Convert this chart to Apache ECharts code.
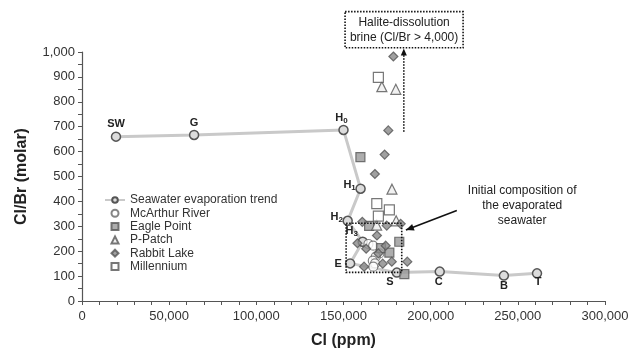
<!DOCTYPE html>
<html><head><meta charset="utf-8">
<script src="https://cdn.jsdelivr.net/npm/echarts@6/dist/echarts.min.js"></script>
<style>html,body{margin:0;padding:0;background:#fff}#c{width:636px;height:358px}</style>
</head><body><div id="c"></div>
<script>
// ---- data ----
const trendNames = ['SW','G','H0','H1','H2','H3','E','S','C','B','T'];
const trendCl    = [19500, 64300, 150000, 159800, 152400, 161000, 153800, 180600, 205200, 242000, 261000];
const trendRatio = [660, 667, 687, 451, 322, 238, 151, 114, 118, 102, 111];
const mcarthurRiver = [[164300,229],[167000,222],[170600,191],[168500,178],[166800,162],[168100,151],[167100,138]];
const eaglePoint = [[159700,578],[164700,302],[182000,238],[171500,212],[176300,194],[184900,108]];
const pPatch = [[172000,861],[180000,850],[177800,449],[180200,322],[169000,305]];
const rabbitLake = [[178600,982],[175700,685],[173600,588],[168000,510],[160800,318],[174800,303],[182800,310],[169200,263],[158000,232],[163000,210],[174200,222],[170000,191],[161800,138],[172500,150],[177700,158],[186600,158]];
const millennium = [[170000,898],[169100,391],[176300,366],[170000,341]];
const seriesNames = ['Seawater evaporation trend','McArthur River','Eagle Point','P-Patch','Rabbit Lake','Millennium'];
// annotations (data coordinates)
const initialBox = {x1: 151500, x2: 183400, y1: 115, y2: 312};
const initialArrow = {from: [215000, 363], to: [185800, 285]};
const initialText = {x: 252500, y: 381, lines: ['Initial composition of', 'the evaporated', 'seawater']};
const haliteBox = {x1: 150900, x2: 218600, y1: 1017, y2: 1162};
const haliteArrow = {x: 184600, from: 680, to: 1010};
const haliteText = ['Halite-dissolution', 'brine (Cl/Br > 4,000)'];

// ---- style helpers ----
const labelOffsets = {SW:[0,-13],G:[0,-12],H0:[-2,-12],H1:[-11,-4],H2:[-11,-4],H3:[-11,-11],E:[-12,1],S:[-7,9],C:[-1,10],B:[0,10],T:[1,9]};
function fmtName(n){
  if (n.length === 2 && n[0] === 'H') return '{b|H}{s|' + n[1] + '}';
  return '{b|' + n + '}';
}
const fmt = v => v.toLocaleString('en-US');
const icons = {
  circle: 'path://M0,5A5,5 0 1,1 10,5A5,5 0 1,1 0,5Z',
  square: 'path://M0,0L10,0L10,10L0,10Z',
  triangle: 'path://M5,0L10,10L0,10Z',
  diamond: 'path://M5,0L10,5L5,10L0,5Z'
};

const trendData = trendNames.map((n,i)=>({
  value:[trendCl[i], trendRatio[i]],
  name:n,
  label:{show:true, position:'inside', offset: labelOffsets[n], formatter: fmtName(n),
    rich:{b:{fontWeight:'bold', fontSize:11, color:'#222', fontFamily:'Liberation Sans'},
          s:{fontWeight:'bold', fontSize:8, color:'#222', padding:[6,0,0,0], fontFamily:'Liberation Sans'}}}
}));

const chart = echarts.init(document.getElementById('c'), null, {renderer:'canvas'});
const axisCol = '#555';
const txt = {fontFamily:'Liberation Sans', color:'#333'};
const legendText = {fontFamily:'Liberation Sans', fontSize:12, color:'#333', lineHeight:12};
chart.setOption({
  animation:false,
  backgroundColor:'#fff',
  grid:{left:82, right:31, top:52, bottom:57},
  xAxis:{type:'value', min:0, max:300000, interval:50000,
    name:'Cl (ppm)', nameLocation:'middle', nameGap:32,
    nameTextStyle:{fontFamily:'Liberation Sans', fontWeight:'bold', fontSize:16, color:'#222'},
    axisLine:{show:true, lineStyle:{color:axisCol, width:1.2}},
    axisTick:{show:true, inside:false, length:4, lineStyle:{color:axisCol}},
    minorTick:{show:true, splitNumber:5, length:4, lineStyle:{color:axisCol}},
    splitLine:{show:false},
    axisLabel:Object.assign({fontSize:13, margin:9, formatter:fmt}, txt)},
  yAxis:{type:'value', min:0, max:1000, interval:100,
    name:'Cl/Br (molar)', nameLocation:'middle', nameGap:52,
    nameTextStyle:{fontFamily:'Liberation Sans', fontWeight:'bold', fontSize:16, color:'#222'},
    axisLine:{show:true, lineStyle:{color:axisCol, width:1.2}},
    axisTick:{show:true, inside:false, length:4, lineStyle:{color:axisCol}},
    minorTick:{show:true, splitNumber:2, length:4, lineStyle:{color:axisCol}},
    splitLine:{show:false},
    axisLabel:Object.assign({fontSize:13, margin:7, formatter:fmt}, txt)},
  legend:{orient:'vertical', left:99, top:189, itemWidth:20, itemHeight:7, itemGap:1.3,
    textStyle:legendText,
    data:[
      {name:seriesNames[0]},
      {name:seriesNames[1], icon:icons.circle},
      {name:seriesNames[2], icon:icons.square},
      {name:seriesNames[3], icon:icons.triangle},
      {name:seriesNames[4], icon:icons.diamond},
      {name:seriesNames[5], icon:icons.square}
    ]},
  series:[
    {name:seriesNames[0], type:'line', data:trendData, symbol:'circle', symbolSize:9,
      lineStyle:{color:'#c9c9c9', width:3}, itemStyle:{color:'#dcdcdc', borderColor:'#555', borderWidth:1.5}, z:2},
    {name:seriesNames[1], type:'scatter', data:mcarthurRiver, symbol:'circle', symbolSize:9,
      itemStyle:{color:'#fff', borderColor:'#666', borderWidth:1.2}, z:3},
    {name:seriesNames[2], type:'scatter', data:eaglePoint, symbol:'rect', symbolSize:9,
      itemStyle:{color:'#999', borderColor:'#555', borderWidth:1.2}, z:3},
    {name:seriesNames[3], type:'scatter', data:pPatch, symbol:'triangle', symbolSize:10,
      itemStyle:{color:'#eee', borderColor:'#555', borderWidth:1.2}, z:3},
    {name:seriesNames[4], type:'scatter', data:rabbitLake, symbol:'diamond', symbolSize:9,
      itemStyle:{color:'#888', borderColor:'#555', borderWidth:1.2}, z:3},
    {name:seriesNames[5], type:'scatter', data:millennium, symbol:'rect', symbolSize:10,
      itemStyle:{color:'#fff', borderColor:'#555', borderWidth:1.2}, z:3}
  ]
});

function px(p){ return chart.convertToPixel({gridIndex:0}, p); }
const b1 = px([initialBox.x1, initialBox.y2]), b2 = px([initialBox.x2, initialBox.y1]);
const a1 = px(initialArrow.from), a2 = px(initialArrow.to);
const it = px([initialText.x, initialText.y]);
const h1 = px([haliteBox.x1, haliteBox.y2]), h2 = px([haliteBox.x2, haliteBox.y1]);
const ha1 = px([haliteArrow.x, haliteArrow.from]), ha2 = px([haliteArrow.x, haliteArrow.to]);
const dotted = {stroke:'#111', lineWidth:1.6, lineDash:[1.5,1.5], fill:null};
chart.setOption({graphic:[
  {type:'rect', shape:{x:b1[0], y:b1[1], width:b2[0]-b1[0], height:b2[1]-b1[1]}, style:dotted, z:10},
  {type:'line', shape:{x1:a1[0], y1:a1[1], x2:a2[0], y2:a2[1]}, style:{stroke:'#111', lineWidth:1.6}, z:10},
  {type:'polygon', shape:{points:(function(){
      const dx=a2[0]-a1[0], dy=a2[1]-a1[1], L=Math.hypot(dx,dy), ux=dx/L, uy=dy/L;
      const bx=a2[0]-ux*8, by=a2[1]-uy*8;
      return [[a2[0],a2[1]],[bx-uy*3.5,by+ux*3.5],[bx+uy*3.5,by-ux*3.5]];})()}, style:{fill:'#111'}, z:10},
  {type:'text', x:it[0], y:it[1], style:{text:initialText.lines.join('\n'), align:'center', verticalAlign:'middle',
      fontFamily:'Liberation Sans', fontSize:12, lineHeight:15, fill:'#222'}, z:10},
  {type:'rect', shape:{x:h1[0], y:h1[1], width:h2[0]-h1[0], height:h2[1]-h1[1]}, style:dotted, z:10},
  {type:'text', x:(h1[0]+h2[0])/2, y:(h1[1]+h2[1])/2, style:{text:haliteText.join('\n'), align:'center', verticalAlign:'middle',
      fontFamily:'Liberation Sans', fontSize:12, lineHeight:15, fill:'#222'}, z:10},
  {type:'line', shape:{x1:ha1[0], y1:ha1[1], x2:ha2[0], y2:ha2[1]+5}, style:{stroke:'#111', lineWidth:1.6, lineDash:[1.5,1.5]}, z:10},
  {type:'polygon', shape:{points:[[ha2[0],ha2[1]-1],[ha2[0]-3,ha2[1]+6],[ha2[0]+3,ha2[1]+6]]}, style:{fill:'#111'}, z:10}
]});
</script></body></html>
